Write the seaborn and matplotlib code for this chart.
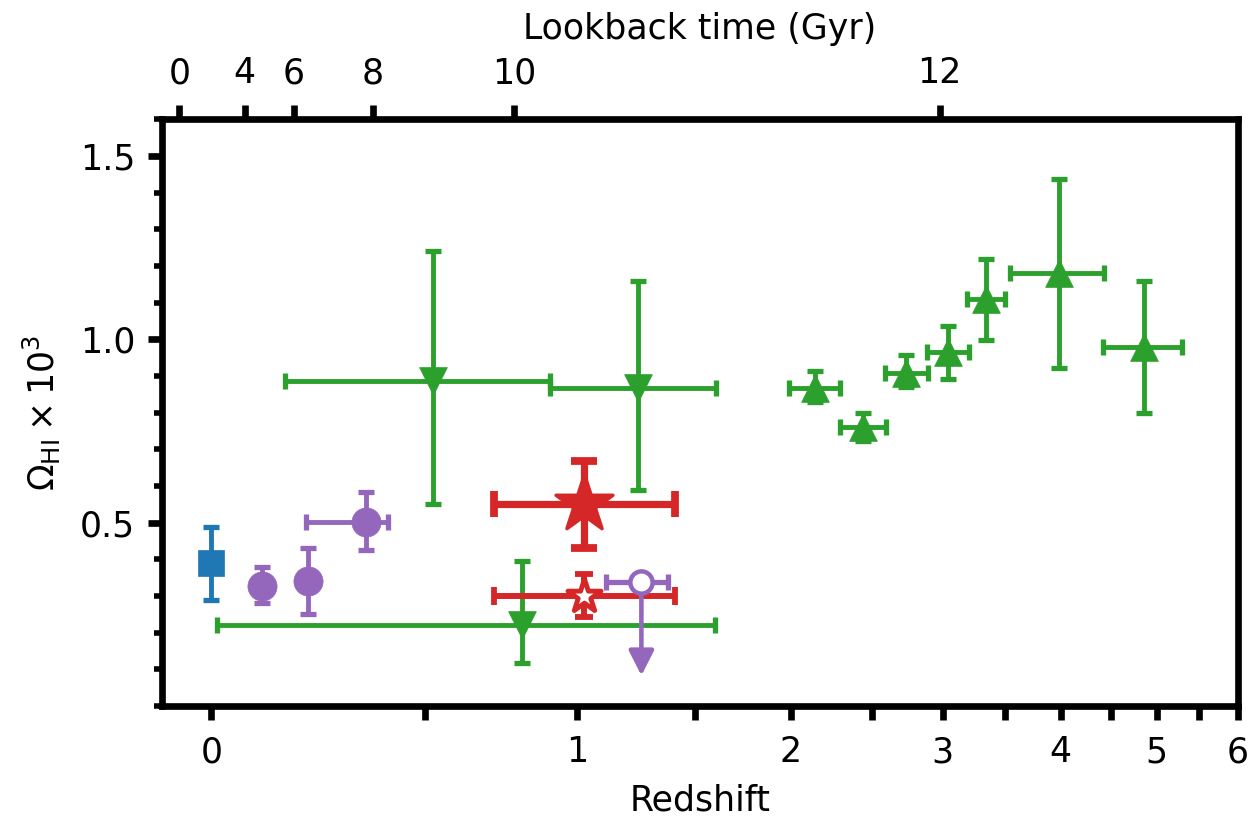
import numpy as np
import matplotlib
matplotlib.use("Agg")
import matplotlib.pyplot as plt
from matplotlib.ticker import FixedLocator, MultipleLocator, NullFormatter
import seaborn as sns

# ---------------- data (redshift z, Omega_HI x 1e3) ----------------
# blue square
sq_z = [0.0]
sq_zlo = [0.0]
sq_zhi = [0.0]
sq_om = [0.39]
sq_lo = [0.289]
sq_hi = [0.489]

# purple filled circles
pc_z = [0.10, 0.20, 0.34]
pc_zlo = [0.10, 0.20, 0.197]
pc_zhi = [0.10, 0.20, 0.398]
pc_om = [0.328, 0.340, 0.503]
pc_lo = [0.281, 0.251, 0.426]
pc_hi = [0.380, 0.431, 0.583]

# purple open circle (upper limit)
po_z = [1.259]
po_zlo = [1.114]
po_zhi = [1.377]
po_om = [0.337]
po_arrow_end = [0.083]

# red filled star
rs_z = [1.028]
rs_zlo = [0.707]
rs_zhi = [1.406]
rs_om = [0.551]
rs_lo = [0.431]
rs_hi = [0.669]

# red open star
ro_z = [1.028]
ro_zlo = [0.707]
ro_zhi = [1.406]
ro_om = [0.301]
ro_lo = [0.242]
ro_hi = [0.360]

# green downward triangles
gd_z = [0.522, 1.246, 0.803]
gd_zlo = [0.150, 0.898, 0.010]
gd_zhi = [0.898, 1.600, 1.596]
gd_om = [0.887, 0.868, 0.220]
gd_lo = [0.552, 0.590, 0.117]
gd_hi = [1.241, 1.159, 0.396]

# green upward triangles
gu_z = [2.139, 2.440, 2.734, 3.036, 3.339, 3.985, 4.855]
gu_zlo = [1.987, 2.291, 2.588, 2.885, 3.184, 3.543, 4.424]
gu_zhi = [2.291, 2.592, 2.892, 3.200, 3.500, 4.430, 5.292]
gu_om = [0.867, 0.762, 0.908, 0.966, 1.110, 1.180, 0.978]
gu_lo = [0.828, 0.723, 0.869, 0.893, 0.999, 0.922, 0.799]
gu_hi = [0.914, 0.800, 0.958, 1.037, 1.219, 1.438, 1.159]

# axes ticks
x_major = [0, 1, 2, 3, 4, 5, 6]
x_minor = [0.5, 1.5, 2.5, 3.5, 4.5, 5.5]
top_tick_z = [-0.0589, 0.0646, 0.1683, 0.3583, 0.7747, 2.977]
top_tick_labels = ["0", "4", "6", "8", "10", "12"]
y_major = [0.5, 1.0, 1.5]
XLIM = (-0.09, 6.0)
YLIM = (0.0, 1.6)

BLUE = "#1f77b4"
PURPLE = "#9467bd"
RED = "#d62728"
GREEN = "#2ca02c"

# ---------------- style ----------------
sns.set_theme(style="ticks")
plt.rcParams["font.family"] = ["DejaVu Sans"]
plt.rcParams["mathtext.fontset"] = "dejavusans"
for k in ["text.color", "axes.labelcolor", "xtick.color", "ytick.color",
          "xtick.labelcolor", "ytick.labelcolor"]:
    plt.rcParams[k] = "black"
FS = 25


def fwd(z):
    return np.log10(1 + np.asarray(z, dtype=float))


def inv(u):
    return 10 ** np.asarray(u, dtype=float) - 1


fig = plt.figure(figsize=(12.49, 8.22), dpi=100)
ax = fig.add_axes([0.1295, 0.1411, 0.8617, 0.7138])
ax.set_xscale("function", functions=(fwd, inv))


def errbars(z, zlo, zhi, om, lo, hi, color, lw=3.5, cs=6.0, ct=3.8):
    z, zlo, zhi = np.array(z), np.array(zlo), np.array(zhi)
    om, lo, hi = np.array(om), np.array(lo), np.array(hi)
    ax.errorbar(z, om, xerr=np.vstack([z - zlo, zhi - z]),
                yerr=np.vstack([om - lo, hi - om]), fmt="none",
                ecolor=color, elinewidth=lw, capsize=cs, capthick=ct,
                zorder=2)


errbars(sq_z, sq_zlo, sq_zhi, sq_om, sq_lo, sq_hi, BLUE)
errbars(pc_z, pc_zlo, pc_zhi, pc_om, pc_lo, pc_hi, PURPLE)
errbars(gd_z, gd_zlo, gd_zhi, gd_om, gd_lo, gd_hi, GREEN)
errbars(gu_z, gu_zlo, gu_zhi, gu_om, gu_lo, gu_hi, GREEN)
errbars(ro_z, ro_zlo, ro_zhi, ro_om, ro_lo, ro_hi, RED, lw=4.3, cs=6.2, ct=4.2)
errbars(rs_z, rs_zlo, rs_zhi, rs_om, rs_lo, rs_hi, RED, lw=5.2, cs=9.5, ct=5.6)

# purple upper limit: horizontal bar + downward arrow
po_zz = np.array(po_z)
ax.errorbar(po_zz, po_om, xerr=np.vstack([po_zz - np.array(po_zlo), np.array(po_zhi) - po_zz]),
            fmt="none", ecolor=PURPLE, elinewidth=3.8, capsize=6, capthick=3.8, zorder=2)
ax.annotate("", xy=(po_z[0], po_arrow_end[0]), xytext=(po_z[0], po_om[0]),
            arrowprops=dict(arrowstyle="-|>,head_length=0.75,head_width=0.38",
                            color=PURPLE, lw=3.3, mutation_scale=20,
                            shrinkA=0, shrinkB=0), zorder=2)

# markers via seaborn
sns.scatterplot(x=sq_z, y=sq_om, marker="s", s=19 ** 2, color=BLUE,
                edgecolor=BLUE, linewidth=0.5, ax=ax, zorder=3, legend=False)
sns.scatterplot(x=pc_z, y=pc_om, marker="o", s=21 ** 2, color=PURPLE,
                edgecolor=PURPLE, linewidth=0.5, ax=ax, zorder=3, legend=False)
sns.scatterplot(x=po_z, y=po_om, marker="o", s=16 ** 2, color="white",
                edgecolor=PURPLE, linewidth=3.2, ax=ax, zorder=3, legend=False)
sns.scatterplot(x=gd_z, y=gd_om, marker="v", s=20 ** 2, color=GREEN,
                edgecolor=GREEN, linewidth=0.5, ax=ax, zorder=3, legend=False)
sns.scatterplot(x=gu_z, y=gu_om, marker="^", s=20 ** 2, color=GREEN,
                edgecolor=GREEN, linewidth=0.5, ax=ax, zorder=3, legend=False)
sns.scatterplot(x=ro_z, y=ro_om, marker="*", s=25 ** 2, color="white",
                edgecolor=RED, linewidth=3.5, ax=ax, zorder=3, legend=False)
sns.scatterplot(x=rs_z, y=rs_om, marker="*", s=43 ** 2, color=RED,
                edgecolor=RED, linewidth=2.5, ax=ax, zorder=3, legend=False)

ax.set_xlim(XLIM)
ax.set_ylim(YLIM)

ax.xaxis.set_major_locator(FixedLocator(x_major))
ax.xaxis.set_minor_locator(FixedLocator(x_minor))
ax.xaxis.set_minor_formatter(NullFormatter())
ax.set_xticklabels([str(v) for v in x_major])
ax.yaxis.set_major_locator(FixedLocator(y_major))
ax.yaxis.set_minor_locator(MultipleLocator(0.1))
ax.set_yticklabels(["%.1f" % v for v in y_major])

for s in ax.spines.values():
    s.set_linewidth(4.8)
    s.set_color("black")
    s.set_visible(True)

ax.tick_params(axis="x", which="both", direction="out", length=10, width=4.8,
               color="black", labelcolor="black", labelsize=FS, pad=11,
               top=False, bottom=True)
ax.tick_params(axis="y", which="major", direction="out", length=10, width=4.8,
               color="black", labelcolor="black", labelsize=FS, pad=9,
               left=True, right=False)
ax.tick_params(axis="y", which="minor", direction="out", length=5.5, width=4.0,
               color="black", left=True, right=False)

ax.set_xlabel("Redshift", fontsize=FS, labelpad=10)
ax.set_ylabel(r"$\Omega_{\rm HI}\times10^3$", fontsize=FS, labelpad=12)

# top axis: lookback time
ax2 = ax.twiny()
ax2.set_xscale("function", functions=(fwd, inv))
ax2.set_xlim(XLIM)
ax2.xaxis.set_major_locator(FixedLocator(top_tick_z))
ax2.set_xticklabels(top_tick_labels)
ax2.xaxis.set_minor_locator(FixedLocator([]))
for s in ax2.spines.values():
    s.set_visible(False)
ax2.tick_params(axis="x", which="major", direction="out", length=10, width=4.8,
                color="black", labelcolor="black", labelsize=FS, pad=11,
                top=True, bottom=False)
ax2.set_xlabel("Lookback time (Gyr)", fontsize=FS, labelpad=12)

fig.savefig("out.png", dpi=100)
